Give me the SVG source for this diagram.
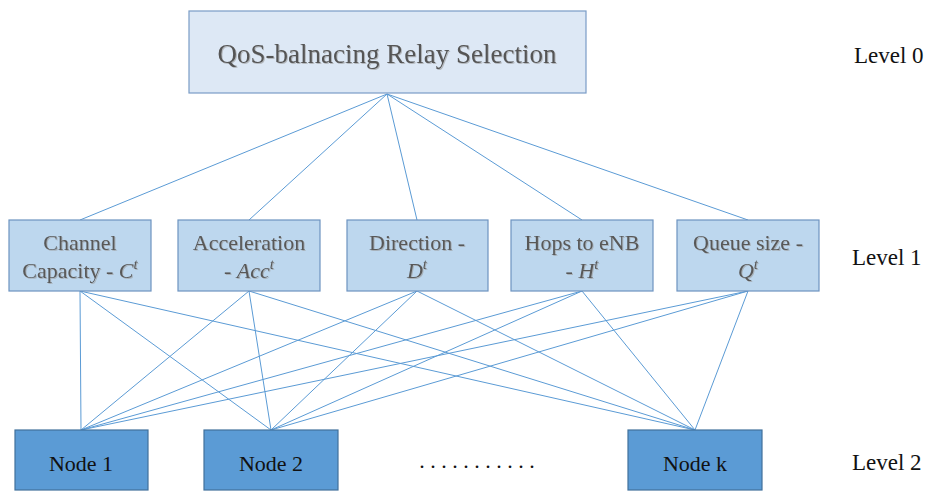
<svg xmlns="http://www.w3.org/2000/svg" width="931" height="491" viewBox="0 0 931 491">
<defs>
<filter id="sh" x="-5%" y="-20%" width="110%" height="140%">
<feDropShadow dx="1" dy="1" stdDeviation="0.6" flood-color="#999" flood-opacity="0.6"/>
</filter>
</defs>
<style>
text{font-family:"Liberation Serif","Times New Roman",serif;text-anchor:middle}
.top rect{fill:#dde8f5;stroke:#7a9cc6;stroke-width:1.2}
.l1 rect{fill:#bdd7ee;stroke:#6d93c0;stroke-width:1.2}
.l2 rect{fill:#5b9bd5;stroke:#41719c;stroke-width:1.2}
.t0{font-size:27px;fill:#555;filter:url(#sh)}
.t1{font-size:22px;fill:#595959;filter:url(#sh)}
.t2{font-size:22px;fill:#111}
.lv{font-size:23px;fill:#111;text-anchor:start}
.m{font-style:italic}
.s{font-size:15px;font-style:italic}
#connectors line{stroke:#5b9bd5;stroke-width:1}
</style>
<rect width="931" height="491" fill="#fff"/>
<g id="connectors">
<line x1="387" y1="94" x2="80" y2="220"/>
<line x1="387" y1="94" x2="249" y2="220"/>
<line x1="387" y1="94" x2="417" y2="220"/>
<line x1="387" y1="94" x2="582" y2="220"/>
<line x1="387" y1="94" x2="748" y2="220"/>
<line x1="80" y1="291" x2="81" y2="430"/>
<line x1="80" y1="291" x2="271" y2="430"/>
<line x1="80" y1="291" x2="695" y2="430"/>
<line x1="249" y1="291" x2="81" y2="430"/>
<line x1="249" y1="291" x2="271" y2="430"/>
<line x1="249" y1="291" x2="695" y2="430"/>
<line x1="417" y1="291" x2="81" y2="430"/>
<line x1="417" y1="291" x2="271" y2="430"/>
<line x1="417" y1="291" x2="695" y2="430"/>
<line x1="582" y1="291" x2="81" y2="430"/>
<line x1="582" y1="291" x2="271" y2="430"/>
<line x1="582" y1="291" x2="695" y2="430"/>
<line x1="748" y1="291" x2="81" y2="430"/>
<line x1="748" y1="291" x2="271" y2="430"/>
<line x1="748" y1="291" x2="695" y2="430"/>
</g>
<g id="root" class="top">
<rect x="189" y="11" width="397" height="82"/>
<text class="t0" x="387" y="63">QoS-balnacing Relay Selection</text>
</g>
<g id="channel" class="l1">
<rect x="9" y="220" width="142" height="71"/>
<text class="t1" x="80" y="250">Channel</text>
<text class="t1" x="80" y="278">Capacity - <tspan class="m">C</tspan><tspan class="s" dy="-9">t</tspan></text>
</g>
<g id="acceleration" class="l1">
<rect x="178" y="220" width="142" height="71"/>
<text class="t1" x="249" y="250">Acceleration</text>
<text class="t1" x="249" y="278">- <tspan class="m">Acc</tspan><tspan class="s" dy="-9">t</tspan></text>
</g>
<g id="direction" class="l1">
<rect x="347" y="220" width="141" height="71"/>
<text class="t1" x="417" y="250">Direction -</text>
<text class="t1" x="417" y="278"><tspan class="m">D</tspan><tspan class="s" dy="-9">t</tspan></text>
</g>
<g id="hops" class="l1">
<rect x="511" y="220" width="142" height="71"/>
<text class="t1" x="582" y="250">Hops to eNB</text>
<text class="t1" x="582" y="278">- <tspan class="m">H</tspan><tspan class="s" dy="-9">t</tspan></text>
</g>
<g id="queue" class="l1">
<rect x="677" y="220" width="142" height="71"/>
<text class="t1" x="748" y="250">Queue size -</text>
<text class="t1" x="748" y="278"><tspan class="m">Q</tspan><tspan class="s" dy="-9">t</tspan></text>
</g>
<g id="node1" class="l2">
<rect x="15" y="430" width="133" height="60"/>
<text class="t2" x="81" y="471">Node 1</text>
</g>
<g id="node2" class="l2">
<rect x="204" y="430" width="134" height="60"/>
<text class="t2" x="271" y="471">Node 2</text>
</g>
<g id="nodek" class="l2">
<rect x="628" y="430" width="134" height="60"/>
<text class="t2" x="695" y="471">Node k</text>
</g>
<text class="t2" x="477" y="468">. . . . . . . . . . .</text>
<text class="lv" x="854" y="63">Level 0</text>
<text class="lv" x="852" y="265">Level 1</text>
<text class="lv" x="852" y="470">Level 2</text>
</svg>
